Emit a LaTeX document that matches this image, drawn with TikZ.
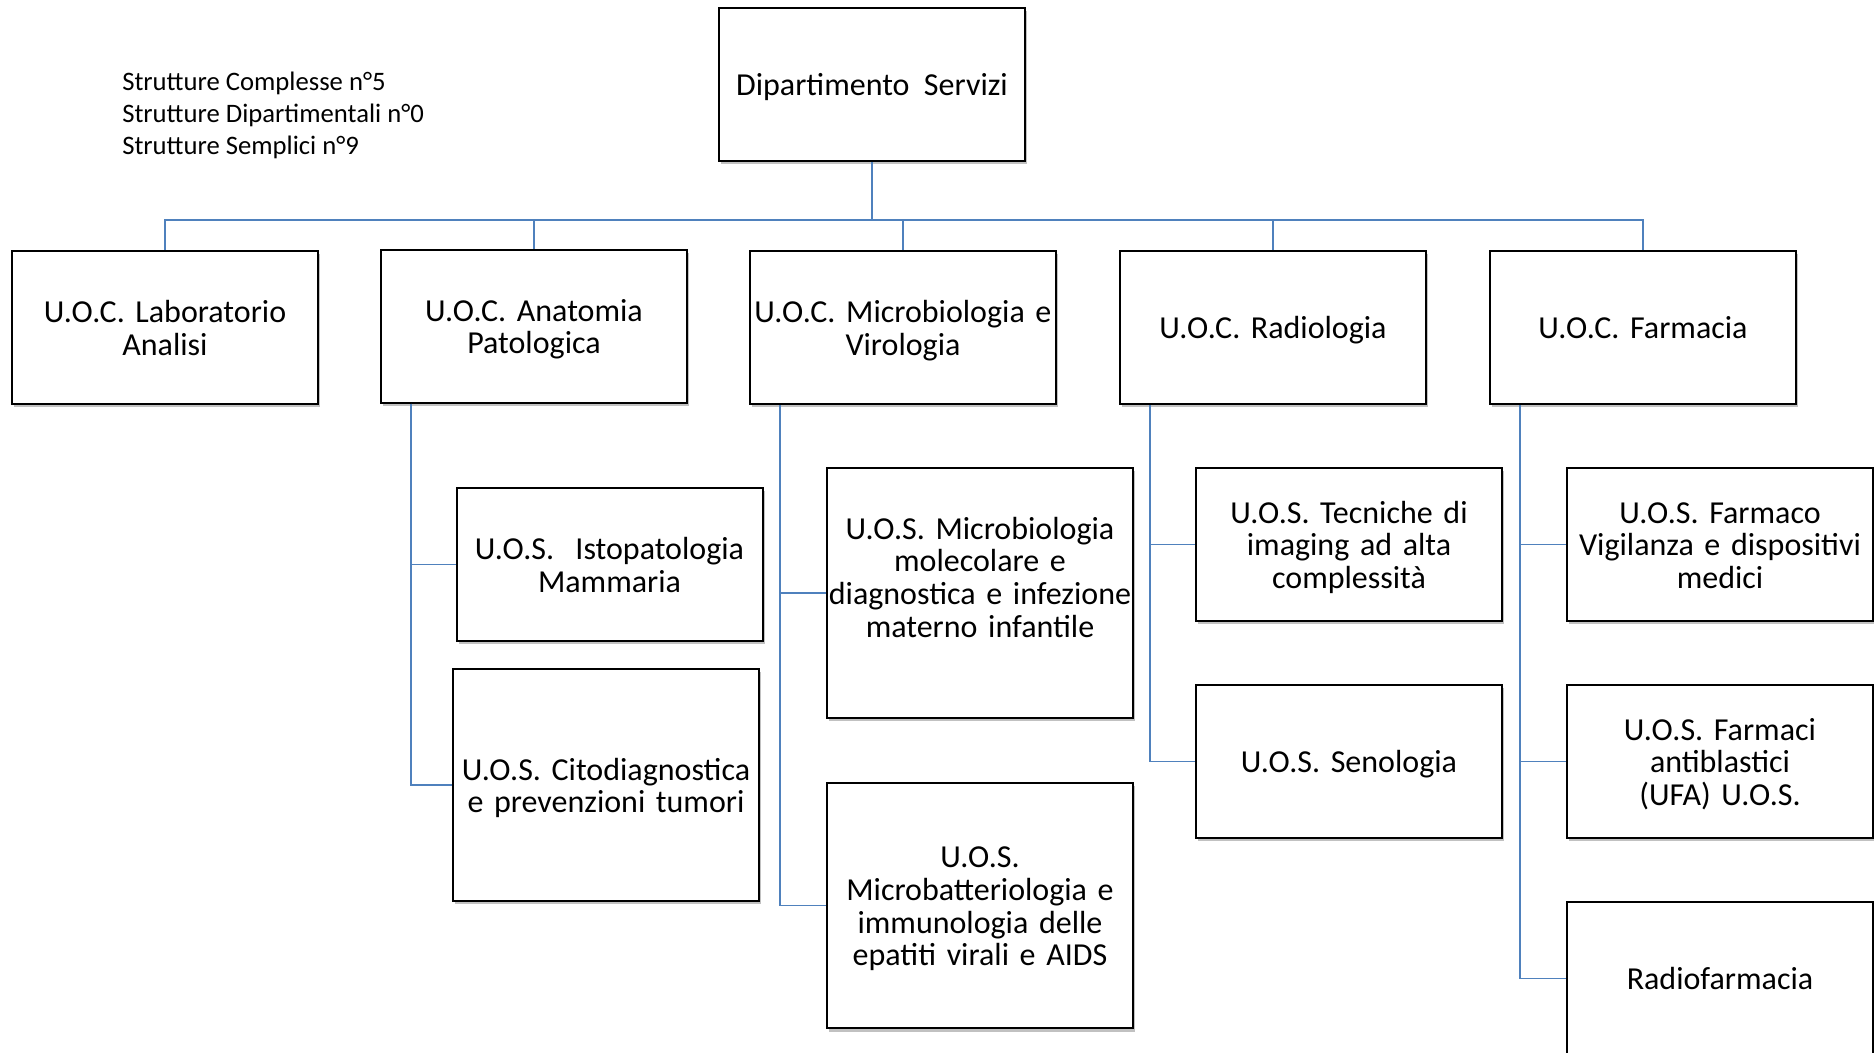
\documentclass[tikz,border=0pt]{standalone}
\usepackage{fontspec}
\setmainfont{Carlito}
\usepackage{tikz}
\usetikzlibrary{shadows}
\usepackage{xcolor}
\definecolor{linkblue}{RGB}{79,129,189}
\frenchspacing

\tikzset{
  unit/.style={rectangle, draw=black, line width=1.5pt, fill=white,
    minimum width=229.5pt, minimum height=114.75pt, text width=229pt,
    align=center, inner sep=0pt, font=\fontsize{24}{24.5}\selectfont,
    execute at begin node=\rule{0pt}{25pt}, execute at end node=\rule[-8pt]{0pt}{0pt},
    drop shadow={shadow xshift=1.5pt, shadow yshift=-2.5pt, opacity=0.35, fill=black!70}},
  link/.style={draw=linkblue, line width=1pt}
}

\begin{document}
\begin{tikzpicture}[x=0.75pt,y=0.75pt,yscale=-1,xscale=1]
  %set diagram size 1874 x 1053
  \useasboundingbox (0,0) rectangle (1874,1053);

  % Text Node
  \node (info) [anchor=west, align=left, inner sep=0pt, font=\fontsize{20}{24}\selectfont] at (122,115.5)
    {Strutture Complesse n°5\\Strutture Dipartimentali n°0\\Strutture Semplici n°9};

  %Shape: Rectangle
  \node (dip) [unit] at (872,84.5) {Dipartimento\hspace{0.45em}Servizi};

  %Shape: Rectangle
  \node (lab) [unit] at (165,327.5) {U.O.C. Laboratorio\\Analisi};
  \node (ana) [unit] at (534,326) {U.O.C. Anatomia\\Patologica};
  \node (mic) [unit] at (903,327.5) {U.O.C. Microbiologia e\\Virologia};
  \node (rad) [unit] at (1273,327.5) {U.O.C. Radiologia};
  \node (far) [unit] at (1643,327.5) {U.O.C. Farmacia};

  %Shape: Rectangle
  \node (isto) [unit] at (609.5,564.5) {U.O.S.\ \ Istopatologia\\Mammaria};
  \node (cito) [unit, minimum height=174pt] at (606,785) {U.O.S. Citodiagnostica\\e prevenzioni tumori};
  \node (mmol) [unit, minimum height=187.5pt] at (980,593) {U.O.S. Microbiologia\\molecolare e\\diagnostica e infezione\\materno infantile\\};
  \node (mbat) [unit, minimum height=184pt] at (980,905.5) {U.O.S.\\Microbatteriologia e\\immunologia delle\\epatiti virali e AIDS};
  \node (tec) [unit] at (1349,544.5) {U.O.S. Tecniche di\\imaging ad alta\\complessità};
  \node (sen) [unit] at (1349,761.5) {U.O.S. Senologia};
  \node (fvig) [unit] at (1720,544.5) {U.O.S. Farmaco\\Vigilanza e dispositivi\\medici};
  \node (fant) [unit] at (1720,761.5) {U.O.S. Farmaci\\antiblastici\\(UFA) U.O.S.};
  \node (rfar) [unit] at (1720,978.5) {Radiofarmacia};

  %Straight Lines
  \coordinate (bus) at ([yshift=43.5pt]dip.south);
  \draw [link] (dip.south) -- (bus);
  \foreach \u in {lab,ana,mic,rad,far}
    \draw [link] (bus) -| (\u.north);

  %Straight Lines
  \foreach \p/\c in {ana/isto,ana/cito,mic/mmol,mic/mbat,rad/tec,rad/sen,far/fvig,far/fant,far/rfar}
    \draw [link] ([xshift=23.25pt]\p.south west) |- (\c.west);

\end{tikzpicture}
\end{document}
